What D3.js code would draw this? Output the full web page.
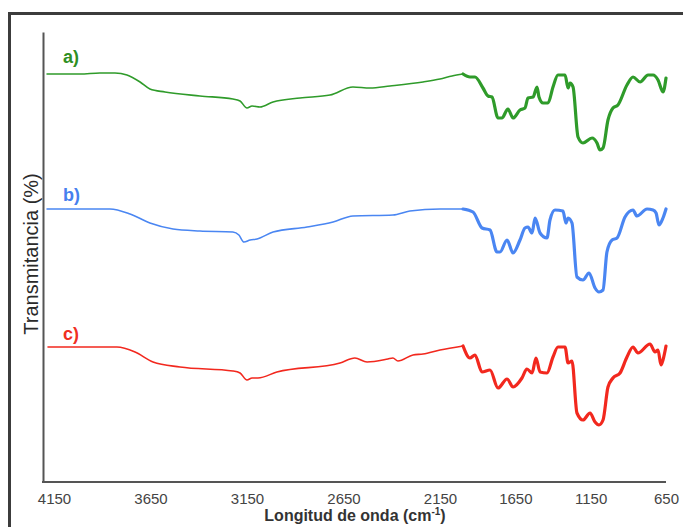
<!DOCTYPE html>
<html>
<head>
<meta charset="utf-8">
<script src="https://cdn.jsdelivr.net/npm/d3@7"></script>
<style>
  html, body { margin: 0; padding: 0; background: #fff; }
  svg { display: block; }
</style>
</head>
<body>
<script>
// FTIR spectra of three samples, stacked with vertical offsets (arbitrary units)
const seriesNames = ["a)", "b)", "c)"];
const xTicks = [4150, 3650, 3150, 2650, 2150, 1650, 1150, 650];

const waveA = [4186, 4015, 3912, 3834, 3772, 3704, 3653, 3575, 3394, 3223, 3186, 3150, 3124, 3083, 3015, 2875, 2720, 2601, 2513, 2409, 2238, 2150, 2070, 1997,
  1951, 1918, 1865, 1831, 1805, 1765, 1739, 1699, 1665, 1619, 1586, 1566, 1532, 1506, 1493, 1466, 1433, 1400, 1367, 1320, 1300, 1287, 1267, 1234, 1201, 1141, 1108, 1088, 1068, 1035, 1002, 969, 909, 869, 822, 769, 736, 703, 670, 650];
const transA = [408, 408, 409, 409, 407, 400, 393, 390, 386, 383, 381, 374, 376, 375, 380, 384, 387, 395, 394, 396, 400, 403, 406, 408,
  405, 405, 394, 386, 385, 364, 364, 373, 364, 372, 374, 384, 385, 395, 385, 379, 379, 395, 407, 407, 394, 399, 395, 345, 339, 344, 339, 332, 334, 362, 374, 377, 397, 405, 400, 407, 407, 402, 390, 404];

const waveB = [4186, 3860, 3756, 3653, 3533, 3394, 3223, 3192, 3166, 3134, 3098, 3015, 2839, 2704, 2601, 2394, 2306, 2150, 1997,
  1931, 1871, 1818, 1772, 1752, 1705, 1665, 1619, 1586, 1566, 1539, 1519, 1486, 1440, 1420, 1387, 1334, 1314, 1300, 1274, 1241, 1201, 1161, 1121, 1095, 1068, 1042, 1008, 975, 922, 869, 843, 776, 736, 716, 697, 670, 650];
const transB = [273, 273, 268, 259, 253, 251, 250, 247, 240, 242, 243, 250, 255, 260, 266, 267, 271, 273, 273,
  270, 254, 252, 230, 230, 242, 229, 242, 254, 255, 249, 264, 249, 244, 262, 272, 271, 259, 264, 259, 205, 202, 209, 194, 190, 192, 230, 242, 244, 265, 272, 266, 273, 272, 269, 257, 264, 273];

const waveC = [4181, 3824, 3730, 3637, 3497, 3223, 3186, 3150, 3124, 3093, 2995, 2668, 2591, 2528, 2420, 2394, 2368, 2290, 2238, 2150, 1997,
  1951, 1918, 1871, 1818, 1765, 1705, 1665, 1606, 1573, 1539, 1513, 1486, 1440, 1400, 1367, 1320, 1300, 1274, 1241, 1201, 1154, 1121, 1095, 1068, 1035, 1002, 955, 909, 869, 836, 756, 723, 703, 683, 670, 650];
const transC = [135, 135, 130, 120, 115, 111, 109, 102, 104, 104, 110, 119, 124, 120, 123, 124, 121, 127, 128, 132, 136,
  124, 127, 110, 112, 94, 103, 95, 104, 113, 109, 124, 110, 109, 125, 135, 135, 119, 121, 69, 62, 69, 60, 57, 62, 95, 104, 109, 125, 135, 129, 138, 130, 132, 117, 122, 136];

const seriesColors = ["#2f9b2a", "#4a86f2", "#f2281e"];
const labelColors = ["#2e8f22", "#4680ee", "#f0301f"];

const W = 683, H = 527;
const svg = d3.select("body").append("svg").attr("width", W).attr("height", H);

// outer frame
svg.append("rect")
  .attr("x", 9.5).attr("y", 13.5).attr("width", 720).attr("height", 560)
  .attr("fill", "#fff").attr("stroke", "#3c3c3c").attr("stroke-width", 3);

const plot = { left: 43, right: 666, top: 32, bottom: 482 };

// wavenumber axis: wider spacing above 2150 cm-1, compressed below
const x = d3.scaleLinear().domain([4150, 2150, 650]).range([54, 440, 666]);
const y = d3.scaleLinear().domain([0, 450]).range([plot.bottom, plot.top]);

const series = [
  { name: seriesNames[0], wave: waveA, t: transA },
  { name: seriesNames[1], wave: waveB, t: transB },
  { name: seriesNames[2], wave: waveC, t: transC }
].map((s, i) => ({
  ...s,
  color: seriesColors[i],
  labelColor: labelColors[i],
  pts: s.wave.map((w, j) => ({ w, v: s.t[j] }))
}));

const line = d3.line()
  .x(d => x(d.w))
  .y(d => y(d.v))
  .curve(d3.curveMonotoneX);

// spectra: thin above 2000 cm-1, heavier in the fingerprint region
const split = 1997;
series.forEach(s => {
  const hi = s.pts.filter(d => d.w >= split);
  const lo = s.pts.filter(d => d.w <= split);
  svg.append("path").datum(hi)
    .attr("d", line).attr("fill", "none")
    .attr("stroke", s.color).attr("stroke-width", 1.6)
    .attr("stroke-linejoin", "round").attr("stroke-linecap", "round");
  svg.append("path").datum(lo)
    .attr("d", line).attr("fill", "none")
    .attr("stroke", s.color).attr("stroke-width", 3.2)
    .attr("stroke-linejoin", "round").attr("stroke-linecap", "round");
});

// series labels
const labelY = [63, 201, 340];
series.forEach((s, i) => {
  svg.append("text")
    .attr("x", 63).attr("y", labelY[i])
    .attr("font-family", "Liberation Sans, Arial, sans-serif")
    .attr("font-weight", "bold").attr("font-size", 18)
    .attr("fill", s.labelColor)
    .text(s.name);
});

// axes
const axisColor = "#555";
const yAxis = svg.append("g")
  .attr("transform", `translate(${plot.left},0)`)
  .call(d3.axisLeft(y).tickValues([]).tickSizeOuter(0));
yAxis.select(".domain").attr("stroke", axisColor).attr("stroke-width", 2);

const xAxis = svg.append("g")
  .attr("transform", `translate(0,${plot.bottom})`)
  .call(d3.axisBottom(x).tickValues(xTicks).tickSize(0).tickPadding(11).tickFormat(d3.format("d")));
xAxis.select(".domain").remove();
xAxis.selectAll("text")
  .attr("font-family", "Liberation Sans, Arial, sans-serif")
  .attr("font-size", 15).attr("fill", "#444");
xAxis.append("line")
  .attr("x1", plot.left - 1).attr("x2", plot.right)
  .attr("y1", 0).attr("y2", 0)
  .attr("stroke", axisColor).attr("stroke-width", 2);

// axis titles
const xt = svg.append("text")
  .attr("x", 355).attr("y", 521)
  .attr("text-anchor", "middle")
  .attr("font-family", "Liberation Sans, Arial, sans-serif")
  .attr("font-weight", "bold").attr("font-size", 16).attr("fill", "#333");
xt.append("tspan").text("Longitud de onda (cm");
xt.append("tspan").attr("dy", -6).attr("font-size", 10).text("-1");
xt.append("tspan").attr("dy", 6).text(")");

svg.append("text")
  .attr("transform", "translate(38,254) rotate(-90)")
  .attr("text-anchor", "middle")
  .attr("font-family", "Liberation Sans Narrow, Arial Narrow, Liberation Sans, sans-serif")
  .attr("font-size", 20).attr("fill", "#2a2a2a")
  .text("Transmitancia (%)");
</script>
</body>
</html>
